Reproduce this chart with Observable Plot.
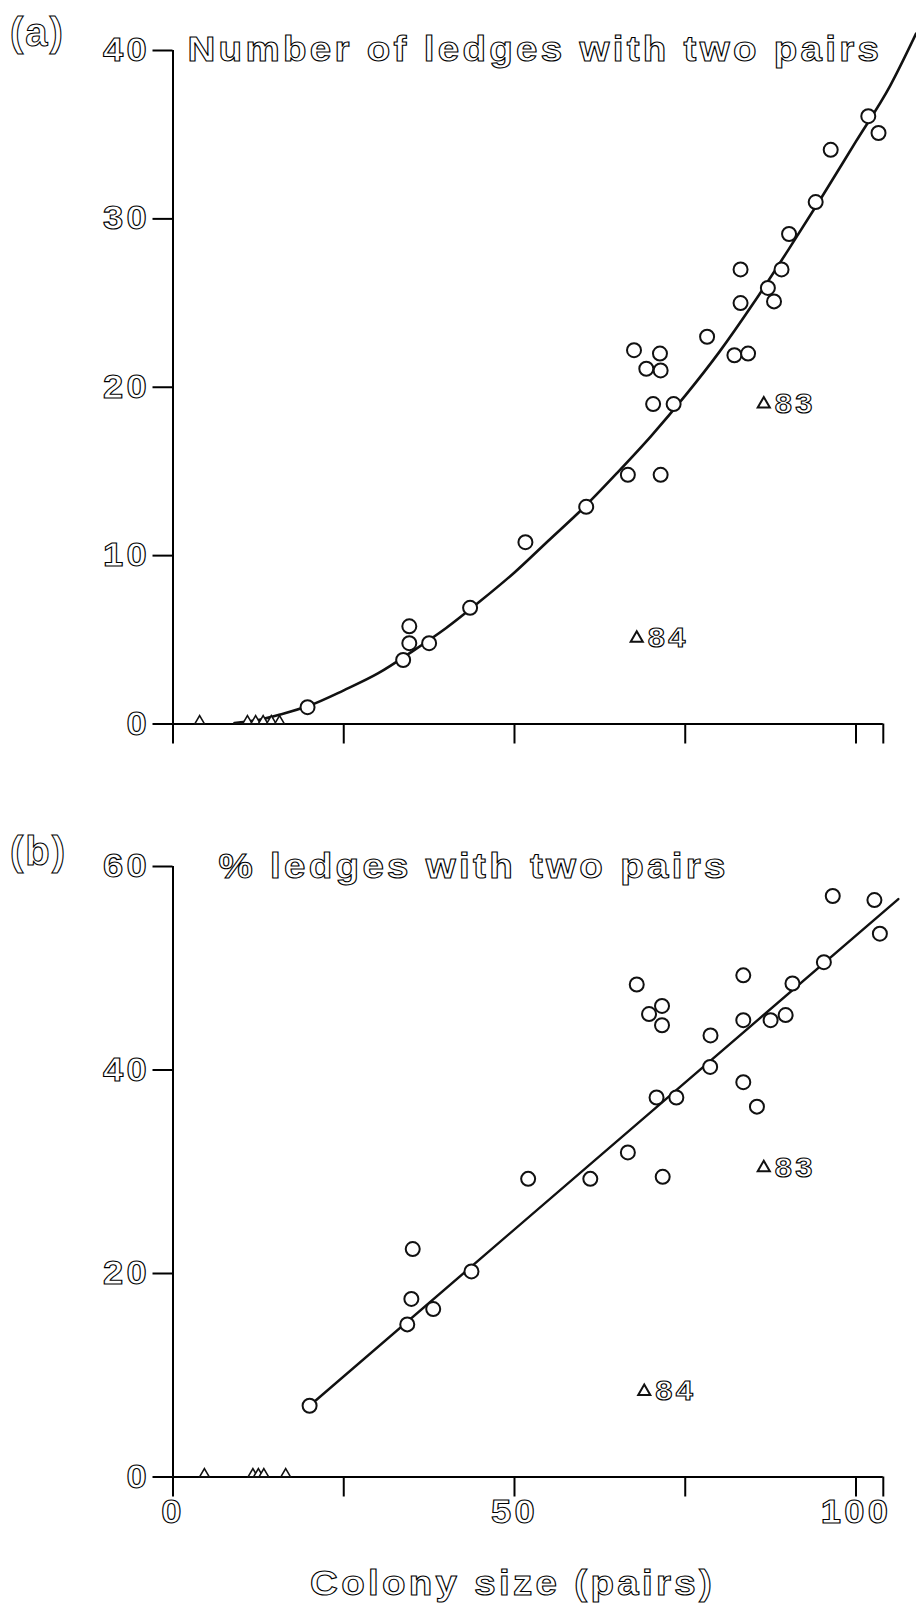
<!DOCTYPE html>
<html>
<head>
<meta charset="utf-8">
<script src="https://cdn.jsdelivr.net/npm/d3@7"></script>
<script src="https://cdn.jsdelivr.net/npm/@observablehq/plot@0.6"></script>
<style>
  html, body { margin: 0; padding: 0; background: #fff; }
  #chart { position: relative; width: 916px; height: 1606px; overflow: hidden; }
  #chart svg { position: absolute; left: 0; }
  #chart svg text { fill: #fff; stroke: #000; stroke-width: 1.05px; paint-order: normal; letter-spacing: 3px; font-weight: 700; }
</style>
</head>
<body>
<div id="chart"></div>
<script>
// ---------- data ----------
// Panel (a): number of ledges with two pairs vs colony size
const colonyA = [19.7, 33.7, 34.6, 34.6, 37.5, 43.5, 51.6, 60.5, 66.6, 71.4,
                 67.5, 71.3, 69.3, 71.4, 70.3, 73.3, 78.2, 82.2, 84.2, 83.1,
                 83.1, 87.1, 88.0, 89.1, 90.2, 94.1, 96.3, 101.8, 103.3];
const ledgesA = [1.0, 3.8, 5.8, 4.8, 4.8, 6.9, 10.8, 12.9, 14.8, 14.8,
                 22.2, 22.0, 21.1, 21.0, 19.0, 19.0, 23.0, 21.9, 22.0, 27.0,
                 25.0, 25.9, 25.1, 27.0, 29.1, 31.0, 34.1, 36.1, 35.1];
// colonies with no two-pair ledges (sitting on the axis)
const zeroColoniesA = [3.9, 10.9, 12.1, 13.2, 14.4, 15.6];
// labelled years (triangles)
const yearLabels = ["83", "84"];
const yearColonyA = [86.5, 67.9];
const yearLedgesA = [19.0, 5.1];
// fitted curve (a)
const fitAx = [9, 12, 16, 20, 25, 30, 35, 40, 45, 50, 55, 60, 65, 70, 75, 80, 85, 90, 95, 100, 105, 108.8];
const fitAy = [0.05, 0.2, 0.6, 1.1, 2.0, 3.0, 4.3, 5.7, 7.3, 9.0, 10.9, 12.8, 14.9, 17.1, 19.5, 22.1, 25.0, 28.1, 31.3, 34.6, 37.9, 41.0];

// Panel (b): % ledges with two pairs vs colony size
const colonyB = [20.0, 34.3, 34.9, 35.1, 38.1, 43.7, 52.0, 61.1, 66.6, 71.7,
                 67.9, 69.7, 71.6, 71.6, 70.8, 73.7, 78.7, 78.65, 83.5, 83.5,
                 83.5, 85.5, 87.5, 89.7, 90.7, 95.3, 96.6, 102.7, 103.5];
const pctB = [7.0, 15.0, 17.5, 22.4, 16.5, 20.2, 29.3, 29.3, 31.9, 29.5,
              48.4, 45.5, 46.3, 44.4, 37.3, 37.3, 43.4, 40.3, 49.3, 44.9,
              38.8, 36.4, 44.9, 45.4, 48.5, 50.6, 57.1, 56.7, 53.4];
const zeroColoniesB = [4.6, 11.7, 12.5, 13.3, 16.5];
const yearColonyB = [86.5, 69.0];
const yearPctB = [30.4, 8.4];
// fitted line (b)
const fitBx = [20.0, 106.2];
const fitBy = [7.0, 56.8];

// ticks and text
const xTicks = [0, 25, 50, 75, 100, 104];
const xTickLabelsB = {0: "0", 50: "50", 100: "100"};
const yTicksA = [0, 10, 20, 30, 40];
const yTicksB = [0, 20, 40, 60];
const titleA = "Number of ledges with two pairs";
const titleB = "% ledges with two pairs";
const panelA = "(a)";
const panelB = "(b)";
const xTitle = "Colony size (pairs)";

// ---------- build tables ----------
const ptsA = colonyA.map((x, i) => ({x, y: ledgesA[i]}));
const ptsB = colonyB.map((x, i) => ({x, y: pctB[i]}));
const yrsA = yearLabels.map((t, i) => ({x: yearColonyA[i], y: yearLedgesA[i], t}));
const yrsB = yearLabels.map((t, i) => ({x: yearColonyB[i], y: yearPctB[i], t}));
const fitA = fitAx.map((x, i) => ({x, y: fitAy[i]}));
const fitB = fitBx.map((x, i) => ({x, y: fitBy[i]}));

const font = "'Liberation Sans', Arial, Helvetica, sans-serif";
const W = 916;
const common = {
  width: W,
  marginLeft: 172.5,
  marginRight: 33.2,
  x: {domain: [0, 104]},
  style: {fontFamily: font, fontSize: "33px", background: "transparent", overflow: "visible"}
};

const svgA = Plot.plot({
  ...common,
  height: 780,
  marginTop: 50,
  marginBottom: 56.5,
  y: {domain: [0, 40]},
  marks: [
    Plot.ruleY([0], {x1: 0, x2: 104, strokeWidth: 2}),
    Plot.ruleX([0], {y1: 0, y2: 40, strokeWidth: 2}),
    Plot.axisY({ticks: yTicksA, tickSize: 20, tickPadding: 3, strokeWidth: 2, label: null, fontSize: 33}),
    Plot.axisX({ticks: xTicks, tickSize: 20, strokeWidth: 2, label: null, tickFormat: () => ""}),
    Plot.line(fitA, {x: "x", y: "y", curve: "monotone-x", strokeWidth: 2.6, stroke: "#111"}),
    Plot.dot(zeroColoniesA, {x: d => d, y: 0, symbol: "triangle", r: 3.5, dy: -3, stroke: "#111", fill: "white", strokeWidth: 1.6}),
    Plot.dot(ptsA, {x: "x", y: "y", r: 7, stroke: "#111", fill: "white", strokeWidth: 2}),
    Plot.dot(yrsA, {x: "x", y: "y", symbol: "triangle", r: 4.5, stroke: "#111", fill: "white", strokeWidth: 2}),
    Plot.text(yrsA, {x: "x", y: "y", text: "t", dx: 11, textAnchor: "start", fontSize: 28}),
    Plot.text([titleA], {frameAnchor: "top-left", dx: 14.5, dy: -1, textAnchor: "start", lineAnchor: "middle", fontSize: 35}),
    Plot.text([panelA], {frameAnchor: "top-left", dx: -163, dy: -17, textAnchor: "start", lineAnchor: "middle", fontSize: 40})
  ]
});
svgA.style.top = "0px";

const svgB = Plot.plot({
  ...common,
  height: 826,
  marginTop: 86,
  marginBottom: 129.5,
  y: {domain: [0, 60]},
  marks: [
    Plot.ruleY([0], {x1: 0, x2: 104, strokeWidth: 2}),
    Plot.ruleX([0], {y1: 0, y2: 60, strokeWidth: 2}),
    Plot.axisY({ticks: yTicksB, tickSize: 20, tickPadding: 3, strokeWidth: 2, label: null, fontSize: 33}),
    Plot.axisX({ticks: xTicks, tickSize: 20, tickPadding: 3, strokeWidth: 2, label: null, fontSize: 33,
                tickFormat: d => xTickLabelsB[d] ?? ""}),
    Plot.line(fitB, {x: "x", y: "y", strokeWidth: 2.4, stroke: "#111"}),
    Plot.dot(zeroColoniesB, {x: d => d, y: 0, symbol: "triangle", r: 3.5, dy: -3, stroke: "#111", fill: "white", strokeWidth: 1.6}),
    Plot.dot(ptsB, {x: "x", y: "y", r: 7, stroke: "#111", fill: "white", strokeWidth: 2}),
    Plot.dot(yrsB, {x: "x", y: "y", symbol: "triangle", r: 4.5, stroke: "#111", fill: "white", strokeWidth: 2}),
    Plot.text(yrsB, {x: "x", y: "y", text: "t", dx: 11, textAnchor: "start", fontSize: 28}),
    Plot.text([titleB], {frameAnchor: "top-left", dx: 45.5, dy: 0, textAnchor: "start", lineAnchor: "middle", fontSize: 35}),
    Plot.text([panelB], {frameAnchor: "top-left", dx: -163, dy: -14, textAnchor: "start", lineAnchor: "middle", fontSize: 40}),
    Plot.text([xTitle], {frameAnchor: "bottom", dx: -15.6, dy: 106.5, textAnchor: "middle", lineAnchor: "middle", fontSize: 35})
  ]
});
svgB.style.top = "780px";

const chart = document.getElementById("chart");
chart.appendChild(svgA);
chart.appendChild(svgB);

// The original lettering is a wide, outlined face: widen the glyphs of every label
// except the panel letters.
const widen = 1.1;
for (const svg of [svgA, svgB]) {
  svg.querySelectorAll("text").forEach(t => {
    const s = t.textContent;
    if (!s || s === panelA || s === panelB) { t.style.letterSpacing = "2px"; return; }
    const w = t.getComputedTextLength();
    if (w > 0) {
      t.setAttribute("textLength", (w * widen).toFixed(1));
      t.setAttribute("lengthAdjust", "spacingAndGlyphs");
    }
  });
}
</script>
</body>
</html>
